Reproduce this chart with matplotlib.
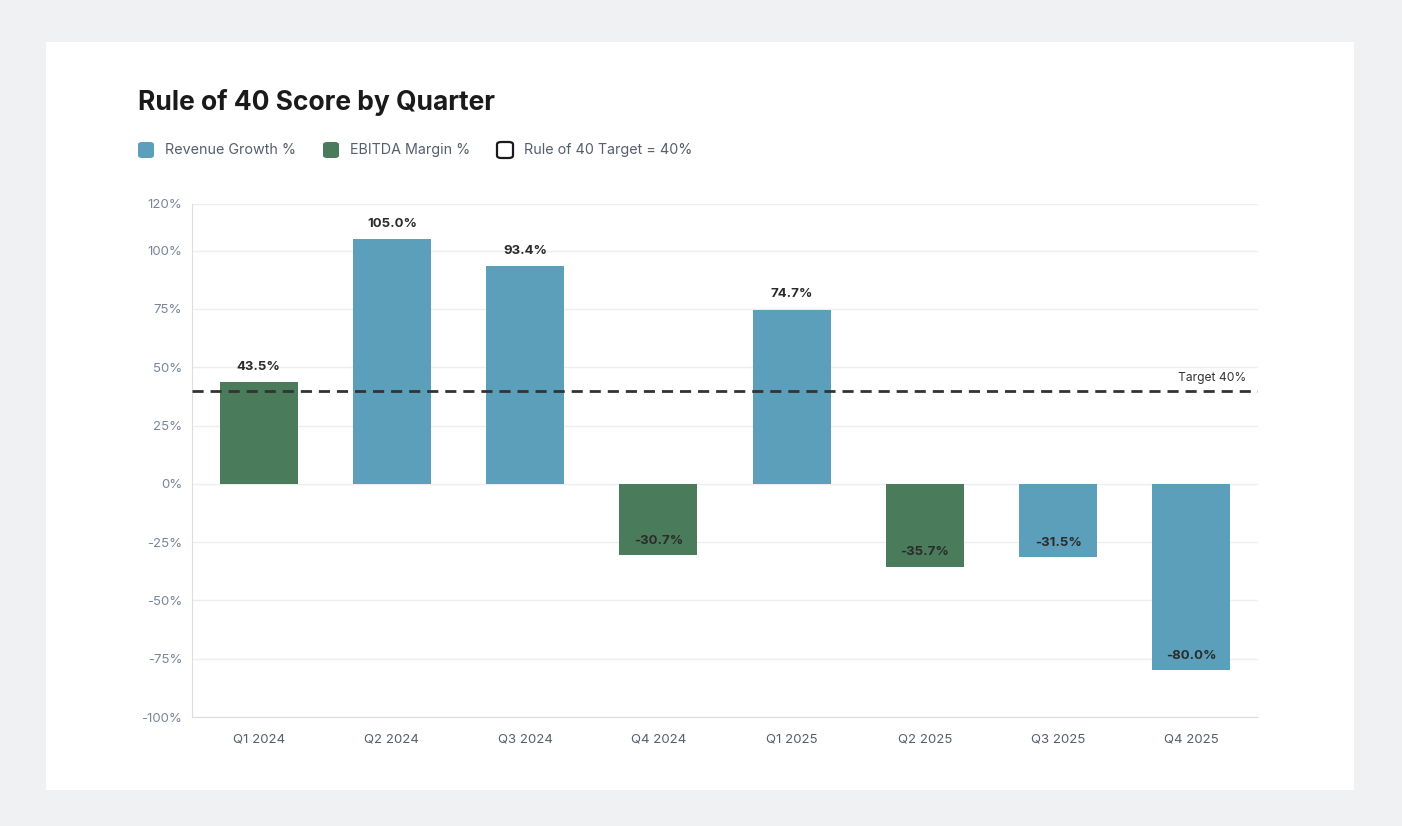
import matplotlib.pyplot as plt
from matplotlib.patches import FancyBboxPatch

plt.rcParams['font.family'] = ['Inter', 'DejaVu Sans']

quarters = ["Q1 2024", "Q2 2024", "Q3 2024", "Q4 2024", "Q1 2025", "Q2 2025", "Q3 2025", "Q4 2025"]
scores = [43.5, 105.0, 93.4, -30.7, 74.7, -35.7, -31.5, -80.0]
# which metric the bar shows: "rev" = Revenue Growth %, "ebitda" = EBITDA Margin %
metric = ["ebitda", "rev", "rev", "ebitda", "rev", "ebitda", "rev", "rev"]
target = 40
yticks = [-100, -75, -50, -25, 0, 25, 50, 75, 100, 120]

BLUE = "#5b9fba"
GREEN = "#4a7c5c"
colors = [BLUE if m == "rev" else GREEN for m in metric]

W, H = 1402, 826
fig = plt.figure(figsize=(W / 100, H / 100), dpi=100)
fig.patch.set_facecolor("#f0f1f3")

# white card
card = FancyBboxPatch((46 / W, 1 - 790 / H), (1354 - 46) / W, (790 - 42) / H,
                      boxstyle="square,pad=0", transform=fig.transFigure,
                      facecolor="white", edgecolor="none", zorder=-10)
fig.patches.append(card)

ax = fig.add_axes([192 / W, 1 - 717 / H, (1258 - 192) / W, (717 - 204) / H])
ax.set_zorder(1)
ax.set_facecolor("white")

x = list(range(len(quarters)))
ax.bar(x, scores, width=0.585, color=colors, zorder=3)

for xi, v in zip(x, scores):
    if v >= 0:
        ax.text(xi, v + 4, f"{v:.1f}%", ha="center", va="bottom",
                fontsize=9.5, fontweight="bold", color="#2b2b2b", zorder=5)
    else:
        ax.text(xi, v + 6.3, f"{v:.1f}%", ha="center", va="center",
                fontsize=9.5, fontweight="bold", color="#2b2b2b", zorder=5)

ax.axhline(target, color="#333333", lw=2, ls=(0, (4, 2.5)), zorder=4)
ax.text(len(quarters) - 0.585, target + 2.8, "Target 40%", ha="right", va="bottom",
        fontsize=8.7, color="#333333", zorder=5)

ax.set_xlim(-0.5, len(quarters) - 0.5)
ax.set_ylim(-100, 120)
ax.set_yticks(yticks)
ax.set_yticklabels([f"{t}%" for t in yticks])
ax.set_xticks(x)
ax.set_xticklabels(quarters)
ax.tick_params(axis="y", length=0, pad=7, labelsize=9.5, labelcolor="#7a8599")
ax.tick_params(axis="x", length=0, pad=12, labelsize=9.5, labelcolor="#555e6b")
ax.grid(axis="y", color="#eeeeee", lw=1, zorder=0)
for s in ["top", "right"]:
    ax.spines[s].set_visible(False)
for s in ["left", "bottom"]:
    ax.spines[s].set_color("#dddddd")

# title
fig.text(138 / W, 1 - 102 / H, "Rule of 40 Score by Quarter", fontsize=19,
         fontweight="bold", color="#1a1a1a", va="center", ha="left")

# legend
legend_items = [("Revenue Growth %", BLUE, BLUE, 138),
                ("EBITDA Margin %", GREEN, GREEN, 323),
                ("Rule of 40 Target = 40%", "white", "#1a1a1a", 497)]
for label, fc, ec, lx in legend_items:
    sq = FancyBboxPatch((lx / W, 1 - 158 / H), 16 / W, 16 / H,
                        boxstyle="round,pad=0,rounding_size=0.003",
                        transform=fig.transFigure, facecolor=fc, edgecolor=ec,
                        lw=1.6 if fc == "white" else 0, zorder=2)
    fig.patches.append(sq)
    fig.text((lx + 27) / W, 1 - 150 / H, label, fontsize=10.3, color="#555e6b",
             va="center", ha="left")

fig.savefig("out.png", dpi=100, facecolor=fig.get_facecolor())
